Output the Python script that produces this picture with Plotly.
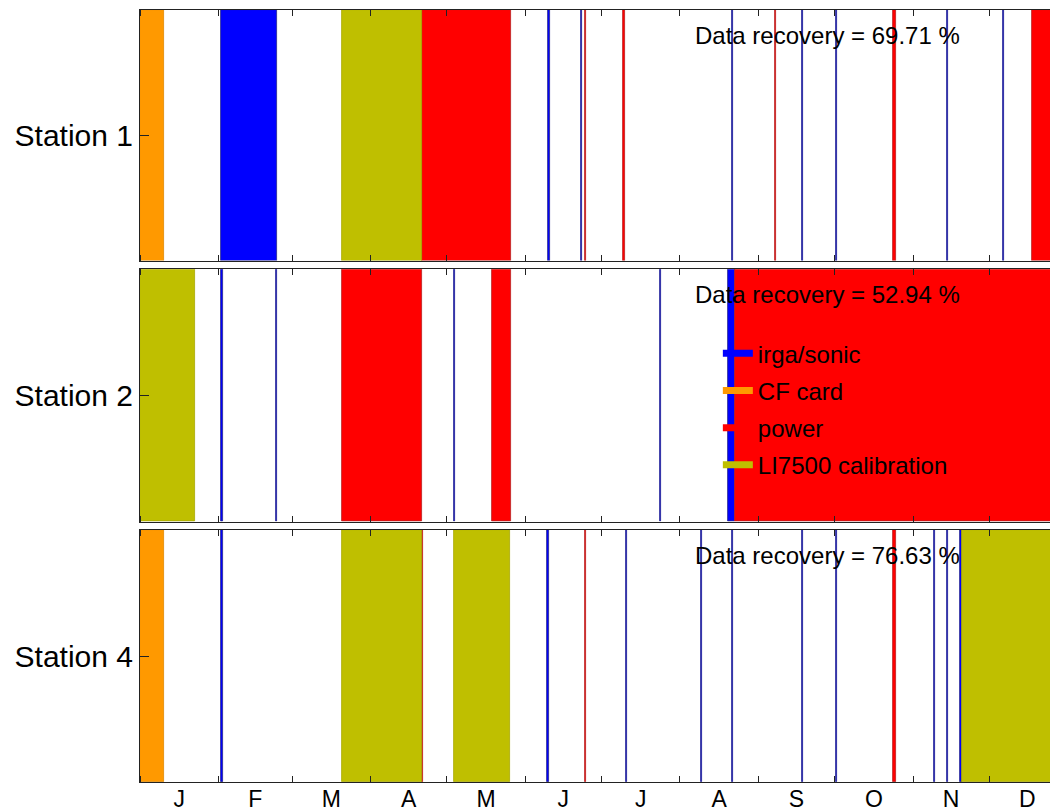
import pandas as pd
import plotly.graph_objects as go
from plotly.subplots import make_subplots

# ---------------- data ----------------
year_start = pd.Timestamp("2012-01-01")
view_end_day = 359  # last visible day of year in the (cropped) reference

stations = ["Station 1", "Station 2", "Station 4"]
recovery = [69.71, 52.94, 76.63]

categories = ["irga/sonic", "CF card", "power", "LI7500 calibration"]
cat_colors = ["#0000FF", "#FF9900", "#FF0000", "#BFBF00"]
cat_edges = ["#24248c", "#e08800", "#b82020", "#a8a800"]

# gap events: start / end (days since 1 Jan) and cause
s1_start = [0, 31.8, 79.8, 111.1, 161.0, 173.8, 175.6, 190.6, 233.6, 250.6, 261.2, 274.6, 297.1, 318.4, 340.4, 352.0]
s1_end = [9.5, 53.9, 111.1, 146.4, 161.8, 174.2, 176.0, 191.4, 234.0, 251.0, 261.6, 275.0, 298.1, 318.8, 340.8, 366]
s1_cat = ["CF card", "irga/sonic", "LI7500 calibration", "power", "irga/sonic", "irga/sonic", "power", "power",
          "irga/sonic", "power", "irga/sonic", "irga/sonic", "power", "irga/sonic", "irga/sonic", "power"]

s2_start = [0, 32.0, 53.7, 79.8, 123.8, 138.7, 205.3, 232.1, 234.7]
s2_end = [21.7, 32.6, 54.1, 111.1, 124.2, 146.4, 205.7, 234.7, 366]
s2_cat = ["LI7500 calibration", "irga/sonic", "irga/sonic", "power", "irga/sonic", "power", "irga/sonic",
          "irga/sonic", "power"]

s4_start = [0, 32.0, 79.8, 111.2, 124.0, 160.7, 175.7, 191.8, 221.4, 233.6, 261.2, 274.6, 297.1, 313.4, 318.4, 323.3, 324.3]
s4_end = [9.5, 32.6, 111.2, 111.6, 146.1, 161.5, 176.1, 192.2, 221.8, 234.0, 261.6, 275.0, 298.1, 313.8, 318.8, 324.1, 366]
s4_cat = ["CF card", "irga/sonic", "LI7500 calibration", "power", "LI7500 calibration", "irga/sonic", "power",
          "irga/sonic", "irga/sonic", "irga/sonic", "irga/sonic", "irga/sonic", "power", "irga/sonic",
          "irga/sonic", "irga/sonic", "LI7500 calibration"]

events = [(s1_start, s1_end, s1_cat), (s2_start, s2_end, s2_cat), (s4_start, s4_end, s4_cat)]

month_alias = {"Jan": "J", "Feb": "F", "Mar": "M", "Apr": "A", "May": "M", "Jun": "J",
               "Jul": "J", "Aug": "A", "Sep": "S", "Oct": "O", "Nov": "N", "Dec": "D"}

# ---------------- figure ----------------
FONT = "Liberation Sans, Arial, sans-serif"
fig = make_subplots(rows=3, cols=1, shared_xaxes=True, vertical_spacing=0.01)

day_ms = 86400000.0
for r, (st, en, ca) in enumerate(events, start=1):
    for cat, col, edge in zip(categories, cat_colors, cat_edges):
        idx = [i for i, c in enumerate(ca) if c == cat]
        if not idx:
            continue
        bases = [year_start + pd.Timedelta(days=st[i]) for i in idx]
        lens = [(en[i] - st[i]) * day_ms for i in idx]
        fig.add_trace(go.Bar(
            orientation="h", y=[0.5] * len(idx), x=lens, base=bases, width=1,
            marker=dict(color=col, line=dict(color=edge, width=0.8)),
            showlegend=False, hoverinfo="skip"), row=r, col=1)

# legend entries
for cat, col in zip(categories, cat_colors):
    fig.add_trace(go.Scatter(x=[None], y=[None], mode="lines", name=cat, legendgroup=cat,
                             line=dict(color=col, width=7)), row=2, col=1)

domains = [[0.6755, 1.0], [0.3372, 0.6641], [0.0, 0.3264]]
x_range = [year_start, year_start + pd.Timedelta(days=view_end_day)]
for r in range(1, 4):
    fig.update_xaxes(row=r, col=1, type="date", range=x_range, showline=True, linecolor="#222222",
                     linewidth=1, mirror="ticks", ticks="inside", ticklen=6, tickcolor="#222222",
                     dtick="M1", tick0="2012-01-01", ticklabelmode="period", tickformat="%b",
                     labelalias=month_alias, showgrid=False, zeroline=False, automargin=False,
                     tickfont=dict(size=23, color="black", family=FONT), ticklabelstandoff=-4,
                     showticklabels=(r == 3))
    fig.update_yaxes(row=r, col=1, range=[0, 1], domain=domains[r - 1], tickmode="array",
                     tickvals=[0.5], ticktext=[stations[r - 1]], ticks="inside", ticklen=9,
                     tickcolor="#222222", showline=True, linecolor="#222222", linewidth=1,
                     mirror=False, showgrid=False, zeroline=False, automargin=False,
                     tickfont=dict(size=30, color="black", family=FONT))
    yd = "y domain" if r == 1 else f"y{r} domain"
    fig.add_annotation(xref="paper", yref=yd, x=0.608, y=0.9, xanchor="left", yanchor="middle",
                       text=f"Data recovery = {recovery[r - 1]:.2f} %", showarrow=False,
                       font=dict(size=24, color="black", family=FONT))

fig.update_layout(
    width=1050, height=812, barmode="overlay", bargap=0,
    margin=dict(l=140, r=0, t=10, b=30, autoexpand=False),
    paper_bgcolor="white", plot_bgcolor="white",
    font=dict(family=FONT, color="black"),
    showlegend=True,
    legend=dict(x=0.635, xanchor="left", y=0.584, yanchor="top", bgcolor="rgba(0,0,0,0)",
                borderwidth=0, font=dict(size=24, color="black", family=FONT),
                tracegroupgap=3, traceorder="grouped"),
)

fig.write_html("out.html", config={"displayModeBar": False},
               post_script="document.body.style.margin='0px';")
